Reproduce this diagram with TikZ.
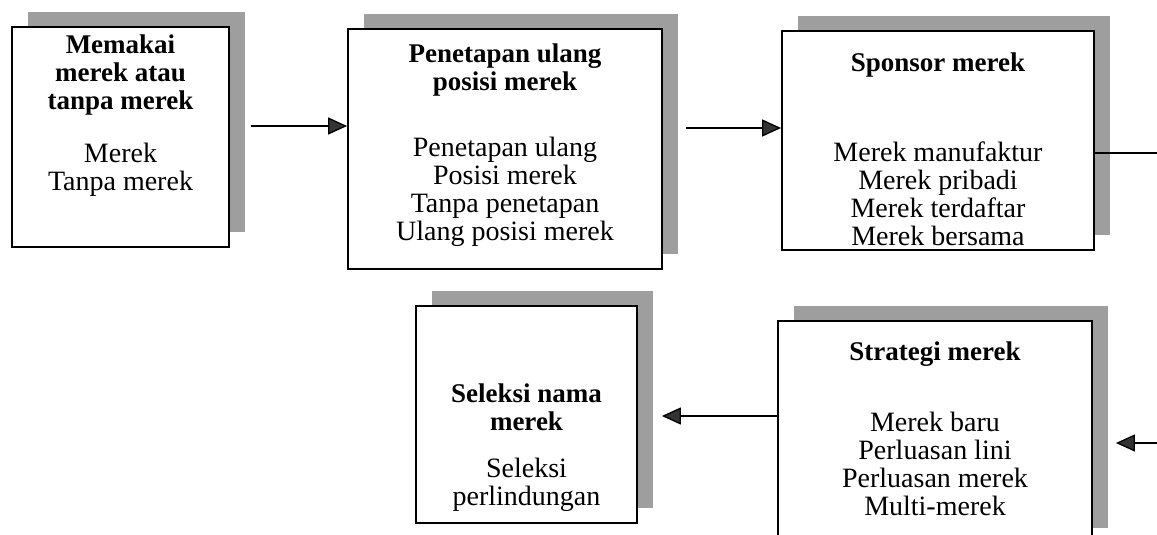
\documentclass[tikz,border=0pt]{standalone}
\usepackage{fontspec}
\setmainfont{Liberation Serif}
\usetikzlibrary{positioning,arrows.meta,shadows}

\newcommand{\hd}[1]{{\fontsize{27pt}{28pt}\selectfont\bfseries #1}}

\begin{document}
\begin{tikzpicture}[x=1pt, y=-1pt,
    box/.style={rectangle, draw=black, line width=1.8pt, fill=white, inner sep=0pt,
      drop shadow={shadow xshift=16pt, shadow yshift=15pt, fill=black!38, opacity=1}},
    txt/.style={align=center, inner sep=0pt, font=\fontsize{28pt}{28pt}\selectfont},
    arr/.style={-{Triangle[length=19pt, width=17pt, fill=black!80]}, line width=1.3pt},
    link/.style={line width=1.3pt}]
    \useasboundingbox (0,0) rectangle (1157,535);
    \clip (0,0) rectangle (1157,535);
    % boxes, top row left to right, then bottom row
    \node[box, minimum width=217pt, minimum height=220pt] (a) at (120.5,137) {};
    \node[box, minimum width=314pt, minimum height=240pt] (b) at (505,149) {};
    \node[box, minimum width=312pt, minimum height=219pt] (c) at (938,140.5) {};
    \node[box, minimum width=221pt, minimum height=217pt] (d) at (526.5,414.5) {};
    \node[box, minimum width=314pt, minimum height=222pt] (e) at (935,432) {};
    % texts
    \node[txt, below=8pt of a.north] (a-t) {\hd{Memakai}\\ \hd{merek atau}\\ \hd{tanpa merek}\\[25pt]
      Merek\\ Tanpa merek};
    \node[txt, below=15pt of b.north] (b-t) {\hd{Penetapan ulang}\\ \hd{posisi merek}\\[38pt]
      Penetapan ulang\\ Posisi merek\\ Tanpa penetapan\\ Ulang posisi merek};
    \node[txt, below=22pt of c.north] (c-t) {\hd{Sponsor merek}\\[62pt]
      Merek manufaktur\\ Merek pribadi\\ Merek terdaftar\\ Merek bersama};
    \node[txt, below=78pt of d.north] (d-t) {\hd{Seleksi nama}\\ \hd{merek}\\[19pt]
      Seleksi\\ perlindungan};
    \node[txt, below=21pt of e.north] (e-t) {\hd{Strategi merek}\\[43pt]
      Merek baru\\ Perluasan lini\\ Perluasan merek\\ Multi-merek};
    % connectors
    \coordinate (c-out) at (1157,153);
    \coordinate (e-in) at (1157,443);
    \draw[arr] ([shift={(21,-11)}]a.east) -- ([yshift=23pt]b.west);
    \draw[arr] ([shift={(23,-21)}]b.east) -- ([yshift=12.5pt]c.west);
    \draw[link] ([yshift=-12.5pt]c.east) -- (c-out);
    \draw[arr] (e-in) -- ([shift={(23,11)}]e.east);
    \draw[arr] ([yshift=16pt]e.west) -- ([shift={(24,1.5)}]d.east);
  \end{tikzpicture}
\end{document}
